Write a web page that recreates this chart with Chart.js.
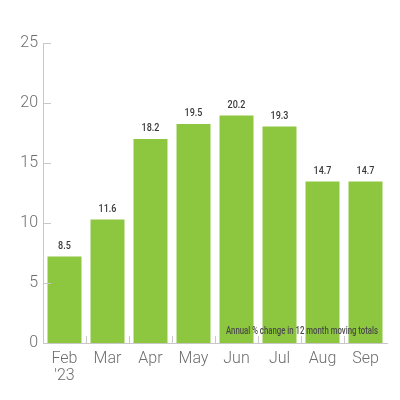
<!DOCTYPE html>
<html>
<head>
<meta charset="utf-8">
<script src="https://cdn.jsdelivr.net/npm/chart.js@4/dist/chart.umd.min.js"></script>
<style>
  html, body { margin: 0; padding: 0; background: #fff; }
  #wrap { width: 400px; height: 400px; }
</style>
</head>
<body>
<div id="wrap"><canvas id="barChart"></canvas></div>
<script>
// values
const categories = [['Feb', "'23"], 'Mar', 'Apr', 'May', 'Jun', 'Jul', 'Aug', 'Sep'];
const barValues = [7.2, 10.3, 17.0, 18.25, 18.95, 18.05, 13.45, 13.45];
const barLabels = ['8.5', '11.6', '18.2', '19.5', '20.2', '19.3', '14.7', '14.7'];
const yTicks = [0, 5, 10, 15, 20, 25];
const note = 'Annual % change in 12 month moving totals';

const axisGrey = '#c8c8c8';

// squeeze text sideways to mimic a condensed face
function narrowText(ctx, text, x, y, squeeze) {
    const w = ctx.measureText(text).width;
    ctx.fillText(text, x, y, w * squeeze);
}

// tick marks that point into the plot, plus bar labels and the note
const extras = {
    id: 'extras',
    afterDatasetsDraw(chart) {
        const ctx = chart.ctx;
        const x = chart.scales.x, y = chart.scales.y;
        const area = chart.chartArea;
        ctx.save();
        ctx.strokeStyle = axisGrey;
        ctx.lineWidth = 1;
        y.ticks.forEach((t, i) => {
            const py = Math.round(y.getPixelForTick(i)) + 0.5;
            ctx.beginPath();
            ctx.moveTo(area.left, py);
            ctx.lineTo(area.left + 8, py);
            ctx.stroke();
        });
        for (let i = 1; i < categories.length; i++) {
            const px = Math.round((x.getPixelForValue(i - 1) + x.getPixelForValue(i)) / 2) + 0.5;
            ctx.beginPath();
            ctx.moveTo(px, area.bottom);
            ctx.lineTo(px, area.bottom - 7);
            ctx.stroke();
        }

        ctx.fillStyle = '#3a3a3a';
        ctx.font = '500 11px Roboto, sans-serif';
        ctx.textAlign = 'center';
        ctx.textBaseline = 'middle';
        chart.getDatasetMeta(0).data.forEach((bar, i) => {
            narrowText(ctx, barLabels[i], bar.x, bar.y - 10.5, 0.82);
        });

        ctx.font = '500 10px Roboto, sans-serif';
        ctx.fillStyle = '#4a4a4a';
        ctx.textAlign = 'right';
        ctx.fillText(note, area.right - 9, y.getPixelForValue(1), 152);
        ctx.restore();
    }
};

new Chart(document.getElementById('barChart').getContext('2d'), {
    type: 'bar',
    data: {
        labels: categories,
        datasets: [{
            data: barValues,
            backgroundColor: '#8dc63f',
            barPercentage: 0.79,
            categoryPercentage: 1
        }]
    },
    options: {
        responsive: true,
        maintainAspectRatio: false,
        animation: false,
        devicePixelRatio: 1,
        layout: { padding: { top: 43, right: 13, left: 0, bottom: 0 } },
        plugins: {
            legend: { display: false },
            tooltip: { enabled: false }
        },
        scales: {
            x: {
                grid: { display: false, drawTicks: false },
                border: { color: axisGrey },
                ticks: {
                    color: '#6e6e6e',
                    padding: 8,
                    font: { family: 'Roboto', weight: 300, size: 16, lineHeight: 1.05 }
                },
                afterFit: (s) => { s.height = 57; }
            },
            y: {
                min: 0,
                max: 25,
                afterBuildTicks: (s) => { s.ticks = yTicks.map(v => ({ value: v })); },
                grid: { display: false, drawTicks: false },
                border: { color: axisGrey },
                ticks: {
                    color: '#6e6e6e',
                    padding: 5,
                    font: { family: 'Roboto', weight: 300, size: 16 }
                },
                afterFit: (s) => { s.width = 43; }
            }
        }
    },
    plugins: [extras]
});
</script>
</body>
</html>
